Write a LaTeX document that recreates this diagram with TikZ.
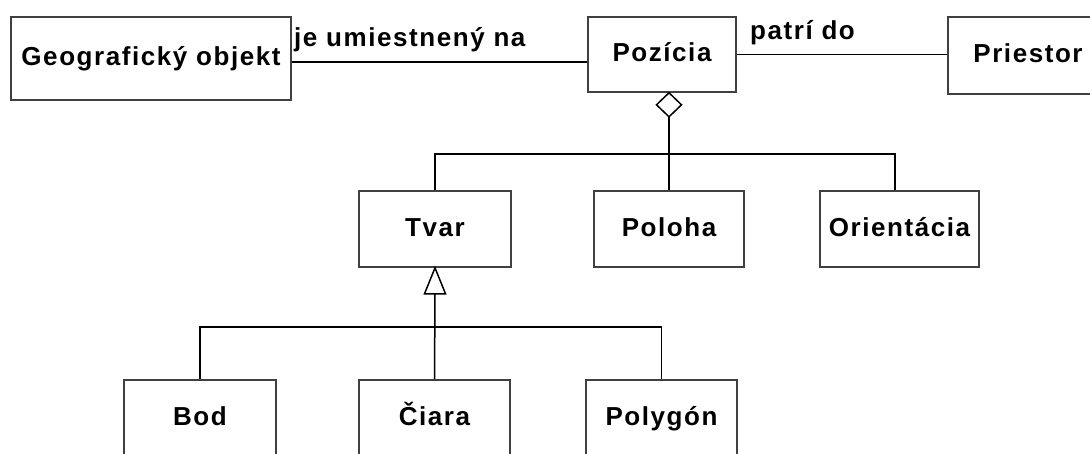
\documentclass[tikz,border=0pt]{standalone}
\usepackage{fontspec}
\setmainfont{Liberation Sans}[LetterSpace=6]
\begin{document}
\begin{tikzpicture}[x=1pt,y=-1pt,
  box/.style={draw=black!75, line width=1.6pt, fill=white, rectangle, inner sep=0pt,
    text height=19pt, text depth=5pt,
    font=\fontsize{26}{30}\selectfont\bfseries},
  conn/.style={draw=black, line width=1.5pt},
  lbl/.style={inner sep=0pt, anchor=base west, font=\fontsize{26}{30}\selectfont\bfseries}]
\useasboundingbox (0,0) rectangle (1090,453);
\clip (0,0) rectangle (1090,453);
\fill[white] (0,0) rectangle (1090,453);

% top row
\node[box, minimum width=280pt, minimum height=83pt] (geo) at (151,58.5) {Geografický objekt};
\node[box, minimum width=148pt, minimum height=75pt] (poz) at (662,54.5) {Pozícia};
\node[box, minimum width=160pt, minimum height=77pt] (pri) at (1028,55.5) {Priestor};

% middle row
\node[box, minimum width=152pt, minimum height=76pt] (tvar) at (435,229) {Tvar};
\node[box, minimum width=150pt, minimum height=76pt] (pol) at (669,229) {Poloha};
\node[box, minimum width=159pt, minimum height=76pt] (ori) at (899.5,229) {Orientácia};

% bottom row
\node[box, minimum width=152pt, minimum height=76pt] (bod) at (200,418) {Bod};
\node[box, minimum width=151pt, minimum height=76pt] (cia) at (434.5,418) {Čiara};
\node[box, minimum width=151pt, minimum height=76pt] (plg) at (661.5,418) {Polygón};

% associations
\draw[conn] ([yshift=-3.5pt]geo.east) -- ([yshift=-3.5pt]geo.east -| poz.west);
\draw[conn] (poz.east) -- (poz.east -| pri.west);
\node[lbl] (lab1) at (294,46) {je umiestnený na};
\node[lbl] (lab2) at (750,39) {patrí do};

% aggregation
\coordinate (dtop) at (pol.north |- poz.south);
\coordinate (bar1) at (0,154);
\draw[conn, fill=white] (dtop) -- ++(12.5,12) -- ++(-12.5,12) -- ++(-12.5,-12) -- cycle;
\draw[conn] (dtop) ++(0,24) -- (pol.north);
\draw[conn] (tvar.north) -- (tvar.north |- bar1) -- ([xshift=-4.5pt]ori.north |- bar1) -- ([xshift=-4.5pt]ori.north);

% generalization
\coordinate (bar2) at (0,327);
\draw[conn, fill=white] (tvar.south) -- ++(10.5,26) -- ++(-21,0) -- cycle;
\draw[conn] (tvar.south) ++(0,26) -- (cia.north);
\draw[conn] (bod.north) -- (bod.north |- bar2) -- (plg.north |- bar2) -- (plg.north);
\end{tikzpicture}
\end{document}
